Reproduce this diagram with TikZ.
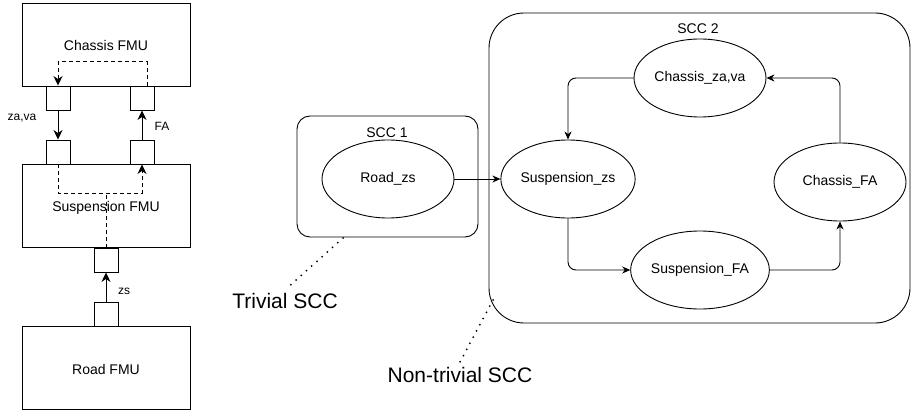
\documentclass[tikz,border=0pt]{standalone}
\usepackage{fontspec}
\setmainfont{Liberation Sans}
\usetikzlibrary{arrows.meta,shapes.geometric}
\begin{document}
\begin{tikzpicture}[x=1pt,y=-1pt,
  line width=0.9pt,
  every node/.style={font=\fontsize{14}{16}\selectfont, inner sep=0pt},
  fmu/.style={draw, minimum width=168pt, minimum height=83pt},
  port/.style={draw, minimum width=24pt, minimum height=24pt},
  lbl/.style={font=\fontsize{12}{14}\selectfont},
  scc/.style={draw},
  ell/.style={draw, ellipse, minimum width=132pt, minimum height=78pt},
  arr/.style={-{Stealth[length=8pt,width=7pt,inset=2.5pt]}},
  arrL/.style={-{Stealth[length=9.5pt,width=9pt,inset=3pt]}},
  dsh/.style={dashed, dash pattern=on 4pt off 3pt},
  dots/.style={line cap=round, dash pattern=on 0pt off 7pt, line width=2pt},
  big/.style={font=\fontsize{21}{24}\selectfont}
]
\useasboundingbox (0,0) rectangle (912,414);

% left: FMUs
\node[fmu] (chassis) at (106,44.5) {};
\node (chassist) at (106,45) {Chassis FMU};
\node[fmu] (susp) at (106,206) {};
\node (suspt) at (106,208) {Suspension FMU};
\node[fmu] (road) at (106,368) {};
\node (roadt) at (106,369) {Road FMU};

% ports
\node[port] (cpL) at (58,98) {};
\node[port] (cpR) at (142,98) {};
\node[port] (spL) at (58,152) {};
\node[port] (spR) at (142,152) {};
\node[port] (spB) at (106,260) {};
\node[port] (rpT) at (106,314) {};

% connectors
\draw[arrL] (cpL.south) -- (spL.north);
\draw[arrL] (spR.north) -- (cpR.south);
\draw[arrL] (rpT.north) -- (spB.south);

% labels
\node[lbl] (lza) at (22,118) {za,va};
\node[lbl] (lfa) at (162,126) {FA};
\node[lbl] (lzs) at (124,291) {zs};

% dashed internal paths
\draw[dsh,arrL] ([xshift=5pt]cpR.north) -- ++(0,-24) -| (cpL.north);
\draw[dsh,arrL] (spL.south) -- ++(0,29) -| (spR.south);
\coordinate (mid) at (106,193);
\draw[dsh] (spB.north) -- (mid);

% right: SCC 1
\node[scc, rounded corners=13pt, minimum width=181pt, minimum height=121pt] (scc1) at (387.5,176.5) {};
\node (scc1t) at (387,133) {SCC 1};
\node[ell] (rz) at (388,179) {Road\_zs};

% SCC 2
\node[scc, rounded corners=35pt, minimum width=421pt, minimum height=310pt] (scc2) at (699.5,168) {};
\node (scc2t) at (698,29) {SCC 2};
\node[ell] (sz) at (568,179) {Suspension\_zs};
\node[ell] (cz) at (700,78) {Chassis\_za,va};
\node[ell] (cf) at (840,182) {Chassis\_FA};
\node[ell] (sf) at (700,270) {Suspension\_FA};

\draw[arr] (rz.east) -- (sz.west);
\draw[arr, rounded corners=8pt] (cz.west) -| (sz.north);
\draw[arr, rounded corners=8pt] (sz.south) |- (sf.west);
\draw[arr, rounded corners=8pt] (sf.east) -| (cf.south);
\draw[arr, rounded corners=8pt] (cf.north) |- (cz.east);

% annotations
\node[big] (triv) at (285,301) {Trivial SCC};
\coordinate (t1) at (343,238);
\coordinate (t2) at (286,289);
\draw[dots] (t1) -- (t2);
\node[big] (ntriv) at (460,375) {Non-trivial SCC};
\coordinate (n1) at (493,300);
\coordinate (n2) at (460,362);
\draw[dots] (n1) -- (n2);
\end{tikzpicture}
\end{document}
